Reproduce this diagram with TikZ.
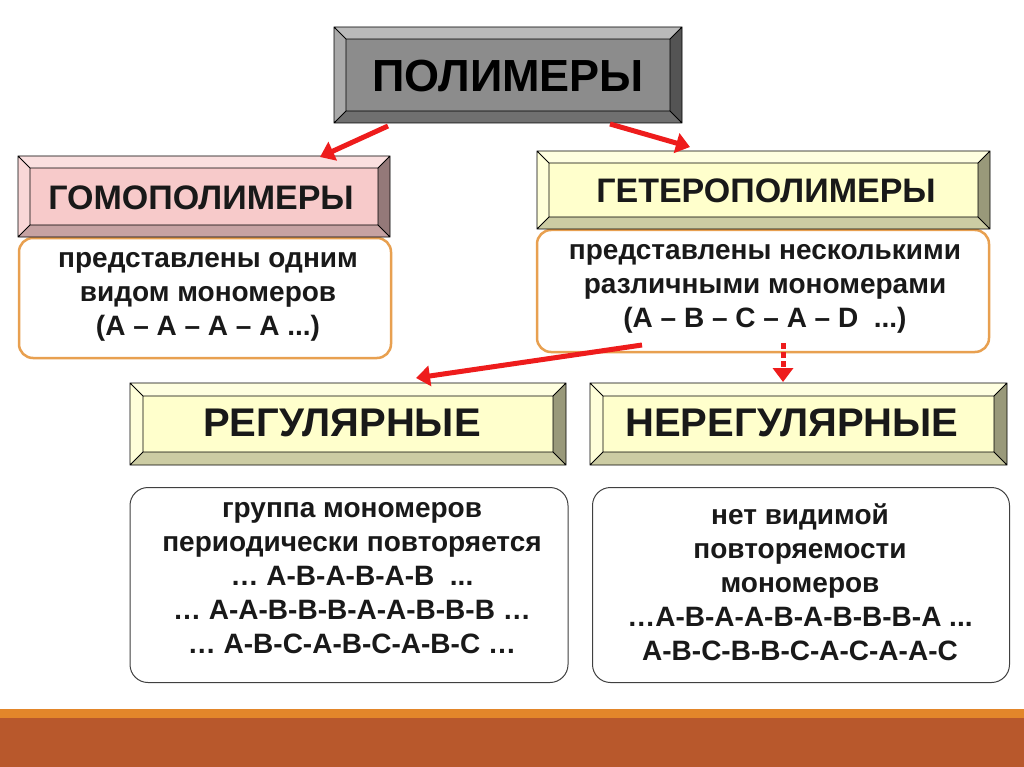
\documentclass[tikz,border=0pt]{standalone}
\usepackage{fontspec}
\setmainfont{Liberation Sans}
\usetikzlibrary{arrows.meta}
\definecolor{pinkf}{HTML}{F7CACA}
\definecolor{yelf}{HTML}{FFFFCC}
\definecolor{grayf}{HTML}{8C8C8C}
\definecolor{arr}{HTML}{EE1C1C}
\definecolor{bord}{HTML}{E8A050}
\definecolor{stripe}{HTML}{E3862A}
\definecolor{brown}{HTML}{B8582C}
\tikzset{
  redarrow/.style={draw=arr,line width=5pt,-{Triangle[length=14pt,width=20pt]}},
  txtbox/.style={draw=bord,line width=2.5pt,rounded corners=14pt,fill=white},
  grybox/.style={draw=black!75,line width=1pt,rounded corners=18pt,fill=white},
  body/.style={font=\bfseries\fontsize{28}{34}\selectfont,align=center,text=black!90}
}
\newcommand{\bevelbox}[6]{%
  \fill[#6] (#1,#2) rectangle (#3,#4);
  \fill[#6!60!white] (#1,#2)--(#3,#2)--(#3-#5,#2+#5)--(#1+#5,#2+#5)--cycle;
  \fill[#6!75!white] (#1,#2)--(#1+#5,#2+#5)--(#1+#5,#4-#5)--(#1,#4)--cycle;
  \fill[#6!60!black] (#3,#2)--(#3,#4)--(#3-#5,#4-#5)--(#3-#5,#2+#5)--cycle;
  \fill[#6!80!black] (#1,#4)--(#3,#4)--(#3-#5,#4-#5)--(#1+#5,#4-#5)--cycle;
  \draw[black,line width=0.8pt] (#1,#2) rectangle (#3,#4) (#1+#5,#2+#5) rectangle (#3-#5,#4-#5)
    (#1,#2)--(#1+#5,#2+#5) (#3,#2)--(#3-#5,#2+#5) (#1,#4)--(#1+#5,#4-#5) (#3,#4)--(#3-#5,#4-#5);
}
\begin{document}
\begin{tikzpicture}[x=1pt,y=-1pt]
\useasboundingbox (0,0) rectangle (1024,767);
\fill[white] (0,0) rectangle (1024,767);
\fill[stripe] (0,709) rectangle (1024,718);
\fill[brown] (0,718) rectangle (1024,767);
% boxes
\node[txtbox,minimum width=372pt,minimum height=120pt] (hot) at (205,298) {};
\node[txtbox,minimum width=452pt,minimum height=122pt] (het) at (763,291) {};
\node[grybox,minimum width=438pt,minimum height=195pt] (rt) at (349,585) {};
\node[grybox,minimum width=417pt,minimum height=195pt] (nt) at (801,585) {};
\bevelbox{334}{27}{682}{123}{12}{grayf}
\bevelbox{18}{156}{390}{237}{12}{pinkf}
\bevelbox{537}{151}{990}{229}{12}{yelf}
\bevelbox{130}{383}{566}{465}{13}{yelf}
\bevelbox{590}{383}{1007}{465}{13}{yelf}
\node[font=\bfseries\fontsize{45}{48}\selectfont] (pol) at (508,76) {ПОЛИМЕРЫ};
\node[font=\bfseries\fontsize{34}{36}\selectfont,text=black!90] (hom) at (201,198) {ГОМОПОЛИМЕРЫ};
\node[font=\bfseries\fontsize{34}{36}\selectfont,text=black!90] (het1) at (766,191) {ГЕТЕРОПОЛИМЕРЫ};
\node[font=\bfseries\fontsize{40}{42}\selectfont,text=black!90] (reg) at (342,423) {РЕГУЛЯРНЫЕ};
\node[font=\bfseries\fontsize{40}{42}\selectfont,text=black!90] (nreg) at (792,423) {НЕРЕГУЛЯРНЫЕ};
\node[body] (hb) at (208,297) {представлены одним\\видом мономеров\\(А – А – А – А ...)};
\node[body] (hetb) at (765,289) {представлены несколькими\\различными мономерами\\(А – В – С – А – D\ \ ...)};
\node[body] (rb) at (352,578) {группа мономеров\\периодически повторяется\\… А-В-А-В-А-В\ \ ...\\… А-А-В-В-В-А-А-В-В-В …\\… А-В-С-А-В-С-А-В-С …};
\node[body] (nb) at (800,582) {нет видимой\\повторяемости\\мономеров\\…А-В-А-А-В-А-В-В-В-А ...\\А-В-С-В-В-С-А-С-А-А-С};
% arrows
\coordinate (p1) at (388,126); \coordinate (p2) at (320,157);
\coordinate (p3) at (610,124); \coordinate (p4) at (690,147);
\coordinate (q1) at (642,345); \coordinate (q2) at (416,378);
\coordinate (q3) at (783,343); \coordinate (q4) at (783,382);
\draw[redarrow] (p1) -- (p2);
\draw[redarrow] (p3) -- (p4);
\draw[redarrow] (q1) -- (q2);
\draw[redarrow,dash pattern=on 6pt off 3pt] (q3) -- (q4);
\end{tikzpicture}
\end{document}
